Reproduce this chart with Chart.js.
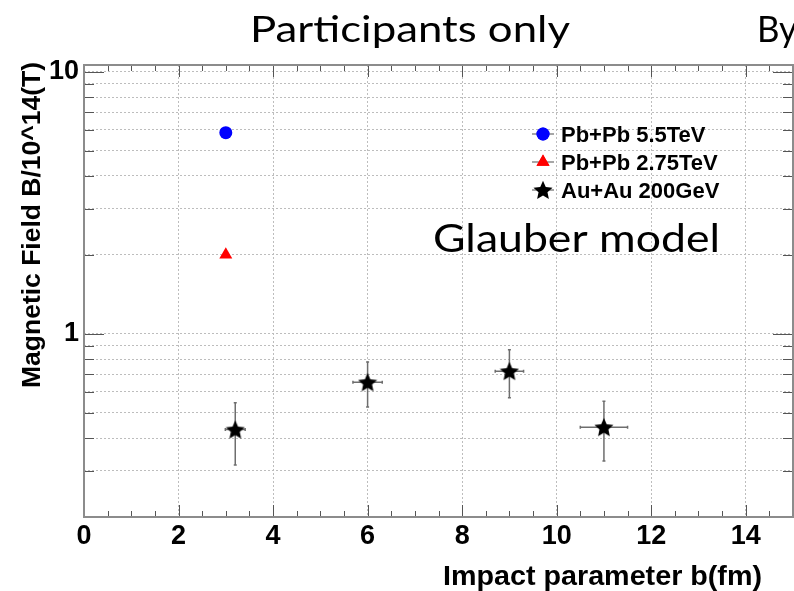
<!DOCTYPE html>
<html>
<head>
<meta charset="utf-8">
<script src="https://cdn.jsdelivr.net/npm/chart.js@4.4.0/dist/chart.umd.min.js"></script>
<style>
  html, body { margin: 0; padding: 0; background: #fff; }
  #wrap { width: 794px; height: 591px; }
</style>
</head>
<body>
<div id="wrap"><canvas id="fieldChart" width="794" height="591"></canvas></div>
<script>
// values
const pb55X = [3.0];
const pb55Y = [5.85];
const pb275X = [3.0];
const pb275Y = [2.0];
const auauX = [3.2, 6.0, 9.0, 11.0];
const auauY = [0.431, 0.653, 0.720, 0.440];
const auauXErr = [0.21, 0.31, 0.30, 0.50];
const auauYErr = [0.115, 0.127, 0.150, 0.113];

const seriesLabels = ["Pb+Pb 5.5TeV", "Pb+Pb 2.75TeV", "Au+Au 200GeV"];
const xTickValues = [0, 2, 4, 6, 8, 10, 12, 14];
const yTickValues = [0.2, 0.3, 0.4, 0.5, 0.6, 0.7, 0.8, 0.9, 1, 2, 3, 4, 5, 6, 7, 8, 9, 10];
const yLabelled = [1, 10];

const BOLD = "'Liberation Sans', Arial, sans-serif";
const TITLE_FONT = "Lato, 'Open Sans', sans-serif";

// filled five point star, like ROOT marker 29
function makeStar(size, color) {
  const c = document.createElement('canvas');
  c.width = size; c.height = size;
  const g = c.getContext('2d');
  const cx = size / 2, cy = size / 2 + 0.8, R = size / 2, r = R * 0.47;
  g.beginPath();
  for (let i = 0; i < 10; i++) {
    const ang = -Math.PI / 2 + i * Math.PI / 5;
    const rad = i % 2 ? r : R;
    const px = cx + Math.cos(ang) * rad, py = cy + Math.sin(ang) * rad;
    if (i === 0) g.moveTo(px, py); else g.lineTo(px, py);
  }
  g.closePath();
  g.fillStyle = color;
  g.fill();
  return c;
}
const starImg = makeStar(20, '#000');

function zip(xs, ys) {
  return xs.map((x, i) => ({ x: x, y: ys[i] }));
}

// text squeezed/stretched to a given width
function fitText(ctx, text, font, x, y, width) {
  ctx.save();
  ctx.font = font;
  const w = ctx.measureText(text).width;
  ctx.translate(x, y);
  ctx.scale(width / w, 1);
  ctx.textAlign = 'left';
  ctx.textBaseline = 'alphabetic';
  ctx.fillText(text, 0, 0);
  ctx.restore();
}

const rootStyle = {
  id: 'rootStyle',
  beforeDatasetsDraw(chart) {
    const ctx = chart.ctx, xs = chart.scales.x, ys = chart.scales.y;
    ctx.save();
    ctx.strokeStyle = '#6e6e6e';
    ctx.lineWidth = 1.5;
    auauX.forEach((bx, i) => {
      const px = xs.getPixelForValue(bx), py = ys.getPixelForValue(auauY[i]);
      const x0 = xs.getPixelForValue(bx - auauXErr[i]), x1 = xs.getPixelForValue(bx + auauXErr[i]);
      const y0 = ys.getPixelForValue(auauY[i] + auauYErr[i]), y1 = ys.getPixelForValue(auauY[i] - auauYErr[i]);
      ctx.beginPath();
      ctx.moveTo(x0, py); ctx.lineTo(x1, py);
      ctx.moveTo(px, y0); ctx.lineTo(px, y1);
      ctx.moveTo(x0, py - 1.5); ctx.lineTo(x0, py + 1.5);
      ctx.moveTo(x1, py - 1.5); ctx.lineTo(x1, py + 1.5);
      ctx.moveTo(px - 1.5, y0); ctx.lineTo(px + 1.5, y0);
      ctx.moveTo(px - 1.5, y1); ctx.lineTo(px + 1.5, y1);
      ctx.stroke();
    });
    ctx.restore();
  },
  afterDraw(chart) {
    const ctx = chart.ctx, a = chart.chartArea, xs = chart.scales.x, ys = chart.scales.y;
    ctx.save();
    // ticks on all four sides
    ctx.strokeStyle = '#555';
    ctx.lineWidth = 1;
    ctx.beginPath();
    for (let v = 0; v <= 15; v += 0.5) {
      const px = Math.round(xs.getPixelForValue(v)) + 0.5;
      const len = v % 2 === 0 ? 12 : 6;
      ctx.moveTo(px, a.bottom); ctx.lineTo(px, a.bottom - len);
      ctx.moveTo(px, a.top); ctx.lineTo(px, a.top + len);
    }
    yTickValues.forEach(v => {
      const py = Math.round(ys.getPixelForValue(v)) + 0.5;
      const len = yLabelled.includes(v) ? 20 : 10;
      ctx.moveTo(a.left, py); ctx.lineTo(a.left + len, py);
      ctx.moveTo(a.right, py); ctx.lineTo(a.right - len, py);
    });
    ctx.stroke();
    // frame
    ctx.strokeStyle = '#8c8c8c';
    ctx.lineWidth = 2;
    ctx.strokeRect(a.left, a.top, a.right - a.left, a.bottom - a.top);

    // legend
    const ds = chart.data.datasets;
    const rowsY = [134, 162, 190];
    ds.forEach((d, i) => {
      const cy = rowsY[i];
      ctx.strokeStyle = '#8a8a8a';
      ctx.lineWidth = 1.5;
      ctx.beginPath();
      ctx.moveTo(532, cy); ctx.lineTo(554, cy);
      ctx.stroke();
      ctx.fillStyle = d.backgroundColor;
      if (d.pointStyle === starImg) {
        Chart.helpers.drawPoint(ctx, { pointStyle: d.pointStyle, radius: d.pointRadius, rotation: 0, borderWidth: 0 }, 543, cy);
      } else {
        ctx.beginPath();
        Chart.helpers.drawPoint(ctx, { pointStyle: d.pointStyle, radius: d.pointRadius, rotation: 0, borderWidth: 0 }, 543, cy);
        ctx.fill();
      }
      ctx.fillStyle = '#000';
      ctx.font = 'bold 22px ' + BOLD;
      ctx.textAlign = 'left';
      ctx.textBaseline = 'alphabetic';
      ctx.fillText(d.label, 561, cy + 8);
    });

    // titles
    ctx.fillStyle = '#000';
    fitText(ctx, 'Participants only', '37px ' + TITLE_FONT, 250, 42, 320);
    fitText(ctx, 'By', '37px ' + TITLE_FONT, 757, 42, 40);
    fitText(ctx, 'Glauber model', '38px ' + TITLE_FONT, 433, 252, 287);
    fitText(ctx, 'Impact parameter b(fm)', 'bold 28px ' + BOLD, 443, 585, 319);
    ctx.save();
    ctx.translate(39.5, 388);
    ctx.rotate(-Math.PI / 2);
    fitText(ctx, 'Magnetic Field B/10^14(T)', 'bold 26px ' + BOLD, 0, 0, 326);
    ctx.restore();
    ctx.restore();
  }
};

const ctx = document.getElementById('fieldChart').getContext('2d');
const dotted = '#bdbdbd';

new Chart(ctx, {
  type: 'scatter',
  data: {
    datasets: [
      {
        label: seriesLabels[0],
        data: zip(pb55X, pb55Y),
        pointStyle: 'circle',
        pointRadius: 6.5,
        backgroundColor: '#0000ff',
        borderColor: '#0000ff',
        borderWidth: 0
      },
      {
        label: seriesLabels[1],
        data: zip(pb275X, pb275Y),
        pointStyle: 'triangle',
        pointRadius: 7.5,
        backgroundColor: '#ff0000',
        borderColor: '#ff0000',
        borderWidth: 0
      },
      {
        label: seriesLabels[2],
        data: zip(auauX, auauY),
        pointStyle: starImg,
        pointRadius: 9,
        backgroundColor: '#000000',
        borderColor: '#000000',
        borderWidth: 0
      }
    ]
  },
  options: {
    responsive: false,
    devicePixelRatio: 1,
    animation: false,
    layout: { autoPadding: false, padding: { top: 65, right: 1, left: 0, bottom: 0 } },
    plugins: {
      legend: { display: false },
      tooltip: { enabled: false }
    },
    scales: {
      x: {
        type: 'linear',
        min: 0,
        max: 15,
        afterBuildTicks: s => { s.ticks = xTickValues.map(v => ({ value: v })); },
        afterFit: s => { s.height = 74; s.paddingLeft = 0; s.paddingRight = 0; },
        border: { display: false, dash: [2, 2] },
        grid: { color: dotted, lineWidth: 1, drawTicks: false },
        ticks: {
          autoSkip: false,
          maxRotation: 0,
          padding: 3,
          color: '#000',
          font: { family: BOLD, size: 27, weight: 'bold' },
          callback: v => String(v)
        }
      },
      y: {
        type: 'logarithmic',
        min: 0.2,
        max: 10.6,
        afterBuildTicks: s => { s.ticks = yTickValues.map(v => ({ value: v })); },
        afterFit: s => { s.width = 84; s.paddingTop = 0; s.paddingBottom = 0; },
        border: { display: false, dash: [2, 2] },
        grid: { color: dotted, lineWidth: 1, drawTicks: false },
        ticks: {
          autoSkip: false,
          padding: 5,
          color: '#000',
          font: { family: BOLD, size: 27, weight: 'bold' },
          callback: v => (yLabelled.includes(v) ? String(v) : '')
        }
      }
    }
  },
  plugins: [rootStyle]
});
</script>
</body>
</html>
